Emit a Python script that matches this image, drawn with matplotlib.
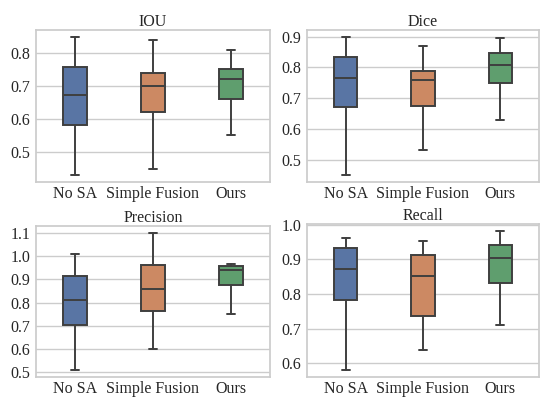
import numpy as np
import matplotlib
matplotlib.use('Agg')
import matplotlib.pyplot as plt
from matplotlib.ticker import MultipleLocator
import seaborn as sns

sns.set_theme(style='whitegrid')
plt.rcParams['font.family'] = ['Liberation Serif', 'DejaVu Serif']

metodos = ['No SA', 'Simple Fusion', 'Ours']
cores = ['#5975A4', '#CC8963', '#5F9E6E']

# estatísticas: [mínimo, Q1, mediana, Q3, máximo]
iou = [[0.429, 0.583, 0.672, 0.758, 0.850],
       [0.449, 0.620, 0.700, 0.741, 0.842],
       [0.550, 0.661, 0.721, 0.751, 0.810]]
dice = [[0.450, 0.672, 0.767, 0.835, 0.899],
        [0.530, 0.674, 0.760, 0.787, 0.868],
        [0.629, 0.748, 0.807, 0.847, 0.897]]
precision = [[0.510, 0.704, 0.813, 0.916, 1.008],
             [0.600, 0.765, 0.857, 0.961, 1.099],
             [0.752, 0.875, 0.939, 0.957, 0.966]]
recall = [[0.581, 0.782, 0.872, 0.932, 0.961],
          [0.640, 0.738, 0.852, 0.912, 0.953],
          [0.712, 0.831, 0.903, 0.941, 0.982]]

paineis = [('IOU', iou), ('Dice', dice), ('Precision', precision), ('Recall', recall)]

# posições dos eixos em pixels (esquerda, topo, direita, base)
W, H = 540, 399
caixas = [(36, 30, 270, 182), (307, 30, 539, 182),
          (36, 226, 270, 377), (307, 224, 539, 377)]

fig = plt.figure(figsize=(5.4, 3.99), dpi=100)
cor_linha = '#3f3f3f'

for (titulo, dados), (x0, y0, x1, y1) in zip(paineis, caixas):
    ax = fig.add_axes([x0 / W, 1 - y1 / H, (x1 - x0) / W, (y1 - y0) / H])
    stats = []
    for nome, v in zip(metodos, dados):
        stats.append({'label': nome, 'whislo': v[0], 'q1': v[1], 'med': v[2],
                      'q3': v[3], 'whishi': v[4], 'fliers': []})
    bp = ax.bxp(stats, positions=range(3), widths=0.3, patch_artist=True,
                capwidths=0.1, showfliers=False,
                boxprops=dict(edgecolor=cor_linha, linewidth=1.4),
                medianprops=dict(color=cor_linha, linewidth=1.4),
                whiskerprops=dict(color=cor_linha, linewidth=1.4),
                capprops=dict(color=cor_linha, linewidth=1.4))
    for patch, c in zip(bp['boxes'], cores):
        patch.set_facecolor(c)
    ax.set_xlim(-0.5, 2.5)
    ax.yaxis.set_major_locator(MultipleLocator(0.1))
    ax.xaxis.grid(False)
    ax.set_title(titulo, fontsize=11.5, pad=3)
    ax.tick_params(axis='both', labelsize=11.5, length=0)
    ax.tick_params(axis='x', pad=3)
    ax.tick_params(axis='y', pad=4)
    for s in ax.spines.values():
        s.set_color('#cccccc')

fig.savefig('out.png', dpi=100)
